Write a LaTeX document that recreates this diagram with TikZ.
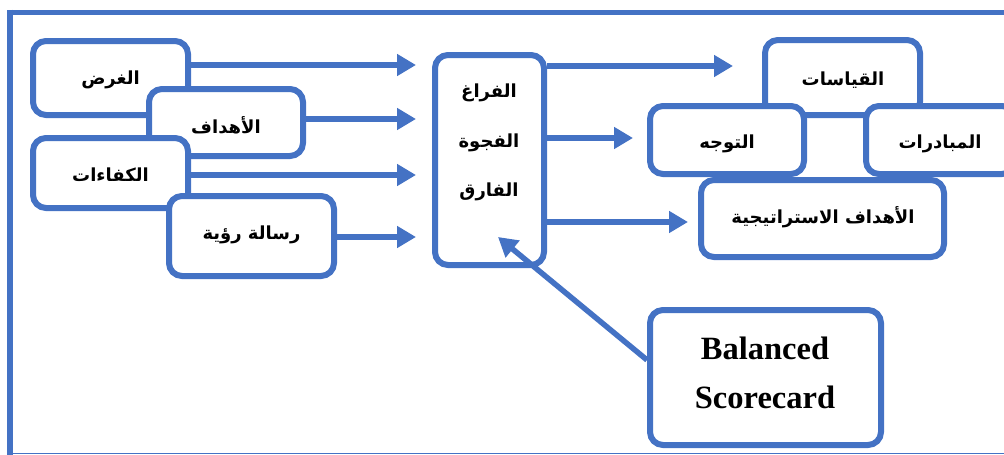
\documentclass[tikz,border=0pt]{standalone}
\usepackage{fontspec}
\usetikzlibrary{arrows.meta}
\newfontfamily\arabicfont[Script=Arabic]{DejaVu Sans}
\setmainfont{Liberation Serif}
\TeXXeTstate=1
\definecolor{officeblue}{HTML}{4472C4}
\newcommand{\ar}[1]{{\arabicfont\bfseries\beginR #1\endR}}
\tikzset{
  box/.style={draw=officeblue, line width=6pt, rounded corners=13pt, fill=white,
    inner sep=0pt, font=\fontsize{18}{21}\selectfont},
  arr/.style={draw=officeblue, line width=5.5pt,
    -{Triangle[length=19pt,width=21pt]}},
  frame/.style={draw=officeblue},
  label/.style={inner sep=0pt, font=\fontsize{18}{21}\selectfont}
}
\begin{document}
\begin{tikzpicture}[x=1pt,y=-1pt]
\useasboundingbox (0,0) rectangle (1004,455);
\begin{scope}
\clip (0,0) rectangle (1004,455);
% outer frame
\draw[frame, line width=6pt] (9.5,9.5) -- (9.5,456);
\draw[frame, line width=5pt] (7,12.5) -- (1010,12.5);
\draw[frame, line width=1.5pt] (9.5,453.5) -- (1010,453.5);

% left stack
\node[box, minimum width=155pt, minimum height=74pt] (gharad) at (110.5,78) {};
\node[label] (gharadt) at (110.5,80) {\ar{الغرض}};
\node[box, minimum width=154pt, minimum height=67pt] (ahdaf) at (226,122.5) {};
\node[label] (ahdaft) at (226,125) {\ar{الأهداف}};
\node[box, minimum width=155pt, minimum height=70pt] (kafaat) at (110.5,173) {};
\node[label] (kafaatt) at (110.5,175) {\ar{الكفاءات}};
\node[box, minimum width=165pt, minimum height=80pt] (risala) at (251.5,236) {};
\node[label] (risalat) at (251.5,235) {\ar{رسالة رؤية}};

% central box
\node[box, minimum width=109pt, minimum height=210pt] (gap) at (489.5,160) {};
\node[label] (gap1) at (489,93) {\ar{الفراغ}};
\node[label] (gap2) at (489,143) {\ar{الفجوة}};
\node[label] (gap3) at (489,192) {\ar{الفارق}};

% right cluster
\node[box, minimum width=155pt, minimum height=75pt] (qiyasat) at (842.5,77.5) {};
\node[label] (qiyasatt) at (843,80) {\ar{القياسات}};
\node[box, minimum width=154pt, minimum height=68pt] (tawajuh) at (727,140) {};
\node[label] (tawajuht) at (727,144) {\ar{التوجه}};
\node[box, minimum width=149pt, minimum height=68pt] (mubadarat) at (940.5,140) {};
\node[label] (mubadaratt) at (940,144) {\ar{المبادرات}};
\node[box, minimum width=243pt, minimum height=77pt] (strat) at (822.5,218.5) {};
\node[label] (stratt) at (823,217) {\ar{الأهداف الاستراتيجية}};

% balanced scorecard
\node[box, minimum width=231pt, minimum height=135pt] (bsc) at (765.5,377.5) {};
\node[label, align=center, font=\fontsize{32.5}{49}\selectfont\bfseries]
  (bsct) at (765,372.5) {Balanced\\Scorecard};

% connector end points
\coordinate (in1) at (416,65);
\coordinate (in2) at (416,119);
\coordinate (in3) at (416,175);
\coordinate (in4) at (416,237);
\coordinate (out1) at (733,66);
\coordinate (out2) at (633,138);
\coordinate (out3) at (688,222);
\coordinate (bsctip) at (498,237);

% connectors
\draw[arr] (gharad.east |- in1) -- (in1);
\draw[arr] (ahdaf.east |- in2) -- (in2);
\draw[arr] (kafaat.east |- in3) -- (in3);
\draw[arr] (risala.east |- in4) -- (in4);
\draw[arr] (gap.east |- out1) -- (out1);
\draw[arr] (gap.east |- out2) -- (out2);
\draw[arr] (gap.east |- out3) -- (out3);
\draw[arr] ([yshift=17.5pt]bsc.west) -- (bsctip);
\end{scope}
\end{tikzpicture}
\end{document}
